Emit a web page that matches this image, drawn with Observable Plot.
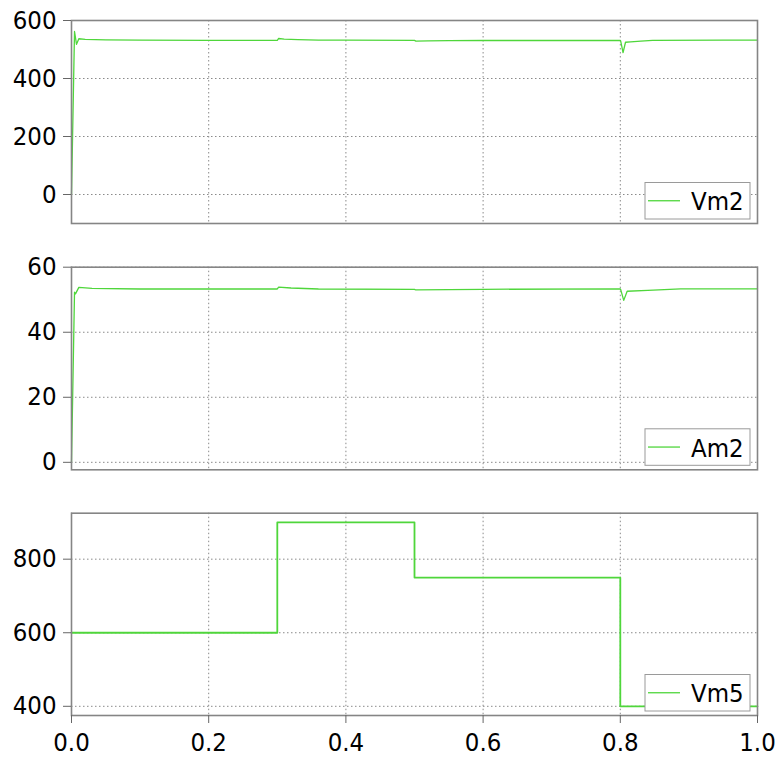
<!DOCTYPE html>
<html>
<head>
<meta charset="utf-8">
<script src="https://cdn.jsdelivr.net/npm/d3@7"></script>
<script src="https://cdn.jsdelivr.net/npm/@observablehq/plot@0.6"></script>
<style>
  html, body { margin: 0; padding: 0; background: #fff; }
  #chart { position: relative; width: 779px; height: 757px; }
  #chart svg { position: absolute; left: 0; }
</style>
</head>
<body>
<div id="chart"></div>
<script>
// ---- data ----
const xTicks = [0, 0.2, 0.4, 0.6, 0.8, 1.0];

const vm2Time = [0, 0.0044, 0.0073, 0.0107, 0.02, 0.05, 0.1, 0.2, 0.3, 0.302, 0.31, 0.33, 0.36, 0.4, 0.5, 0.502, 0.52, 0.55, 0.6, 0.8, 0.8005, 0.804, 0.8076, 0.815, 0.83, 0.847, 0.95, 1.0];
const vm2Value = [0, 562, 518, 537, 535, 533, 532, 531.5, 531.5, 538, 536, 534, 532.5, 532, 531.5, 529, 529.5, 530.5, 531, 531.5, 530, 489, 525, 526.5, 529, 531.5, 532, 532];
const vm2Ticks = [0, 200, 400, 600];

const am2Time = [0, 0.0044, 0.0058, 0.0107, 0.03, 0.1, 0.3, 0.302, 0.32, 0.36, 0.5, 0.502, 0.55, 0.6, 0.8, 0.8005, 0.805, 0.81, 0.84, 0.888, 1.0];
const am2Value = [0, 52.3, 51.8, 53.8, 53.5, 53.3, 53.3, 53.9, 53.6, 53.3, 53.2, 53.0, 53.1, 53.2, 53.35, 53.2, 49.8, 52.6, 52.9, 53.35, 53.35];
const am2Ticks = [0, 20, 40, 60];

const vm5Time = [0, 0.3, 0.5, 0.8, 1.0];
const vm5Value = [600, 900, 750, 400, 400];
const vm5Ticks = [400, 600, 800];

const seriesNames = ["Vm2", "Am2", "Vm5"];

// ---- styling ----
const green = "#4fd63b";
const fontFamily = "'DejaVu Sans Condensed', 'DejaVu Sans', sans-serif";
const fs = 25.5;
const W = 779, ML = 71, MR = 22;

function panel({time, value, yDomain, yTicks, top, height, mt, mb, showX, name, curve, lw}) {
  const data = time.map((t, i) => ({t, v: value[i]}));
  const marks = [
    Plot.gridY(yTicks, {stroke: "#8a8a8a", strokeOpacity: 1, strokeDasharray: "1.5,2.5", strokeWidth: 1}),
    Plot.gridX(xTicks, {stroke: "#8a8a8a", strokeOpacity: 1, strokeDasharray: "1.5,2.5", strokeWidth: 1}),
    Plot.line(data, {x: "t", y: "v", stroke: green, strokeWidth: lw, curve}),
    Plot.frame({stroke: "#858585", strokeWidth: 1.6}),
    Plot.axisY(yTicks, {tickSize: 8, tickPadding: 7, stroke: "#666", fill: "#000", fontSize: fs, label: null})
  ];
  if (showX) marks.push(Plot.axisX(xTicks, {tickSize: 8, tickPadding: 9, stroke: "#666", fill: "#000", fontSize: fs, tickFormat: d3.format(".1f"), label: null}));
  const svg = Plot.plot({
    width: W, height,
    marginLeft: ML, marginRight: MR, marginTop: mt, marginBottom: mb,
    style: {fontFamily, fontSize: fs + "px", background: "transparent", overflow: "visible"},
    x: {domain: [0, 1], axis: showX ? undefined : null},
    y: {domain: yDomain},
    marks
  });
  svg.style.top = top + "px";
  // legend box (bottom-right, inside the frame)
  const fb = height - mb;
  const g = d3.select(svg).append("g");
  const bx = 645, bw = 105, bh = 36.5, by = fb - 4 - bh;
  g.append("rect").attr("x", bx).attr("y", by).attr("width", bw).attr("height", bh)
    .attr("fill", "#fff").attr("stroke", "#9a9a9a").attr("stroke-width", 1);
  g.append("line").attr("x1", bx + 3).attr("x2", bx + 35).attr("y1", by + bh / 2).attr("y2", by + bh / 2)
    .attr("stroke", green).attr("stroke-width", 1.3);
  g.append("text").attr("x", bx + 46).attr("y", by + bh / 2 + 9.5).attr("font-size", fs)
    .attr("text-anchor", "start")
    .attr("font-family", fontFamily).attr("fill", "#000").text(name);
  return svg;
}

const chart = document.getElementById("chart");
chart.appendChild(panel({time: vm2Time, value: vm2Value, yDomain: [-100, 600], yTicks: vm2Ticks,
  top: 0, height: 243, mt: 20, mb: 20, showX: false, name: seriesNames[0], curve: "linear", lw: 1.3}));
chart.appendChild(panel({time: am2Time, value: am2Value, yDomain: [-2.3, 60], yTicks: am2Ticks,
  top: 243, height: 250, mt: 23.7, mb: 23.7, showX: false, name: seriesNames[1], curve: "linear", lw: 1.3}));
chart.appendChild(panel({time: vm5Time, value: vm5Value, yDomain: [375, 925], yTicks: vm5Ticks,
  top: 493, height: 264, mt: 19.7, mb: 42, showX: true, name: seriesNames[2], curve: "step-after", lw: 1.8}));
</script>
</body>
</html>
